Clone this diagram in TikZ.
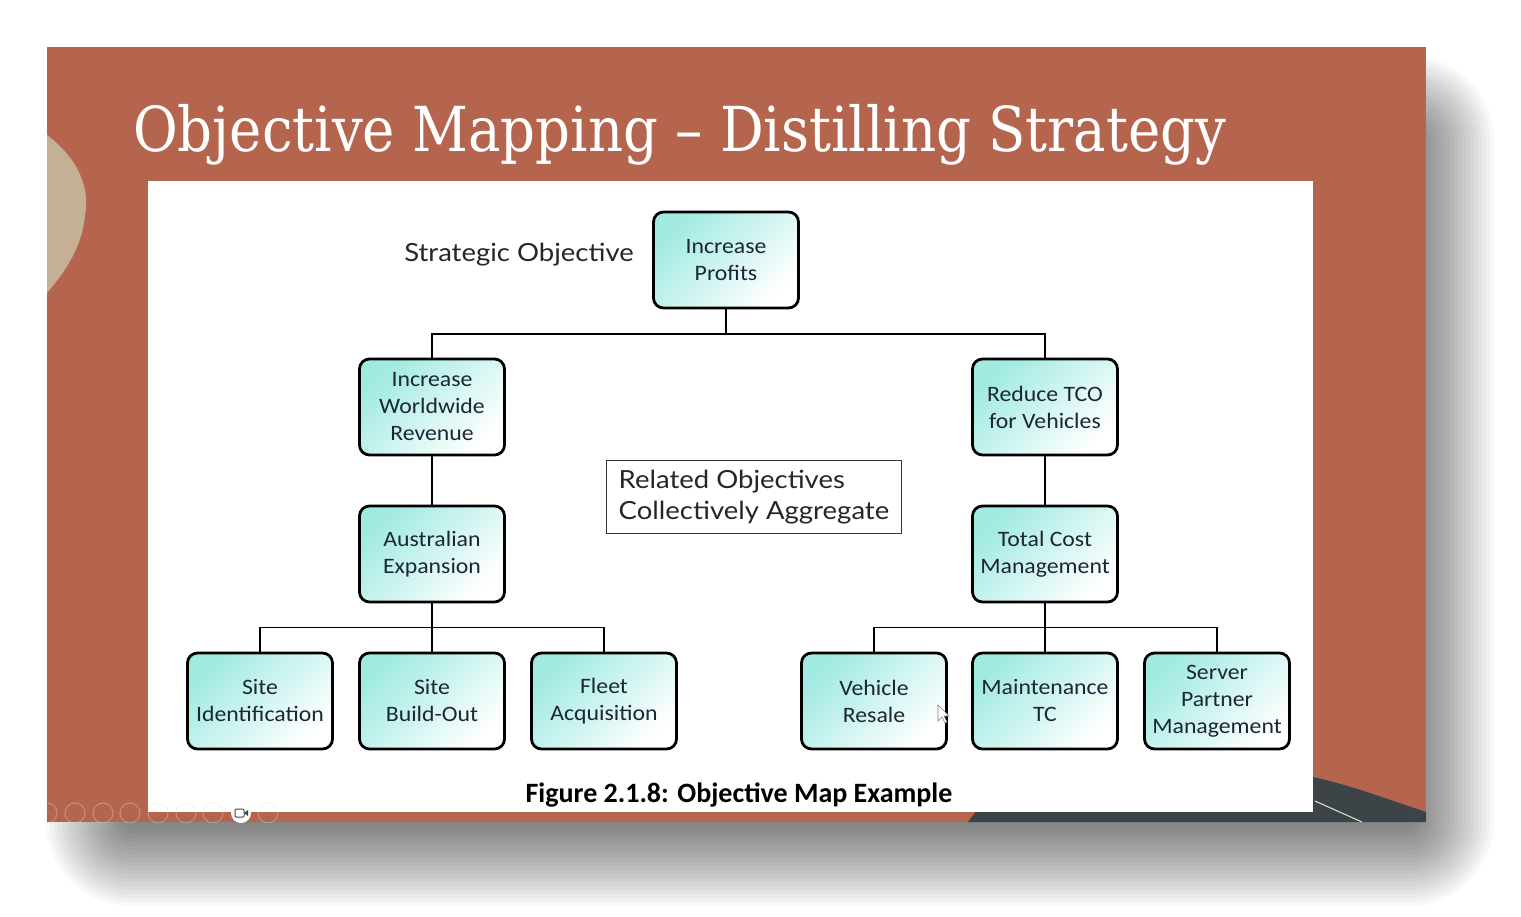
\documentclass[tikz,border=0pt]{standalone}
\usepackage{fontspec}
\setmainfont{Carlito}
\newfontfamily\titlefont[FakeStretch=0.88]{DejaVu Serif}
\newfontfamily\boxfont[FakeStretch=1.08]{Carlito}
\newfontfamily\notefont[FakeStretch=1.1]{Lato}
\usepackage{xcolor}
\usepackage{tikz}
\usetikzlibrary{positioning, calc}

\definecolor{slidebg}{RGB}{181,101,77}
\definecolor{blobbg}{RGB}{198,176,149}
\definecolor{darkshape}{RGB}{60,68,71}
\definecolor{boxcyan}{RGB}{160,234,226}
\definecolor{boxtext}{RGB}{28,38,52}

\begin{document}
\begin{tikzpicture}[
    x=1pt, y=-1pt,
    objbox/.style={draw=black, line width=2.8pt, rounded corners=10pt,
        minimum width=145pt, minimum height=96pt, inner sep=2pt, align=center,
        top color=boxcyan, middle color=boxcyan!35!white, bottom color=white,
        shading angle=45,
        text=boxtext, font=\boxfont\fontsize{22}{27}\selectfont},
    link/.style={draw=black, line width=1.8pt},
    notelabel/.style={font=\notefont\fontsize{25}{31}\selectfont, text=black!85},
    toolicon/.style={draw=white!75!gray, line width=1pt, opacity=0.35}
]

% Seitenrahmen
\useasboundingbox (0,0) rectangle (1521,917);
\fill[white] (0,0) rectangle (1521,917);

% Schatten der Folie
\foreach \e in {84,80,...,0} {
    \fill[black, opacity=0.028, rounded corners=\e+1]
        (130-\e,140-\e) rectangle (1410+\e,822+\e);
}

% Folie mit Hintergrundformen
\fill[slidebg] (47,47) rectangle (1426,822);
\fill[blobbg] (47,135) .. controls (80,160) and (90,190) .. (85,215)
    .. controls (82,250) and (62,275) .. (47,293) -- cycle;
\fill[darkshape] (968,822) -- (980,806) -- (1313,777)
    .. controls (1350,785) and (1390,800) .. (1426,812) -- (1426,822) -- cycle;
\draw[white!80!gray, line width=1pt] (1315,801) -- (1362,822);
\fill[white] (148,181) rectangle (1313,812);

% Symbolleiste der Praesentation
\begin{scope}
    \clip (47,47) rectangle (1426,822);
    \foreach \x in {47,75,103,130,158,186,213,268} {
        \draw[toolicon] (\x,813) circle (10);
    }
\end{scope}
\fill[white] (241,813) circle (10);
\draw[darkshape, line width=1pt, rounded corners=1pt] (235,809) rectangle (244,817);
\fill[darkshape] (244,813) -- (248,810) -- (248,816) -- cycle;

% Titel
\node[anchor=base west, inner sep=0pt, text=white,
    font=\titlefont\fontsize{62}{68}\selectfont] (title) at (133,152)
    {Objective Mapping – Distilling Strategy};

% Zielbaum
\node[objbox] (profits)  at (726,260) {Increase\\Profits};
\node[objbox] (revenue)  at (432,407) {Increase\\Worldwide\\Revenue};
\node[objbox] (tco)      at (1045,407) {Reduce TCO\\for Vehicles};
\node[objbox] (austral)  at (432,554) {Australian\\Expansion};
\node[objbox] (totcost)  at (1045,554) {Total Cost\\Management};
\node[objbox] (siteid)   at (260,701) {Site\\Identification};
\node[objbox] (buildout) at (432,701) {Site\\Build-Out};
\node[objbox] (fleet)    at (604,701) {Fleet\\Acquisition};
\node[objbox] (resale)   at (874,701) {Vehicle\\Resale};
\node[objbox] (maint)    at (1045,701) {Maintenance\\TC};
\node[objbox] (partner)  at (1217,701) {Server\\Partner\\Management};

% Verbindungen
\draw[link] (profits.south) -- ++(0,25) coordinate (hubtop);
\draw[link] (revenue.north) |- (hubtop) -| (tco.north);
\draw[link] (revenue) -- (austral);
\draw[link] (tco) -- (totcost);
\draw[link] (austral.south) -- ++(0,24) coordinate (hubleft);
\draw[link] (siteid.north) |- (hubleft) -| (fleet.north);
\draw[link] (hubleft) -- (buildout.north);
\draw[link] (totcost.south) -- ++(0,24) coordinate (hubright);
\draw[link] (resale.north) |- (hubright) -| (partner.north);
\draw[link] (hubright) -- (maint.north);

% Beschriftungen
\node[notelabel] (stratlabel) at (519,255) {Strategic Objective};
\node[notelabel, draw=black!80, line width=1.2pt, align=left,
    minimum width=295pt, minimum height=73pt] (related) at (754,497)
    {Related Objectives\\Collectively Aggregate};
\node[font=\bfseries\fontsize{28}{32}\selectfont] (caption) at (739,795)
    {Figure 2.1.8: Objective Map Example};

% Mauszeiger
\draw[gray, fill=white, line width=0.6pt] (938,705) -- (938,721) -- (942,717)
    -- (945,723) -- (947,722) -- (944,716) -- (949,716) -- cycle;

\end{tikzpicture}
\end{document}
